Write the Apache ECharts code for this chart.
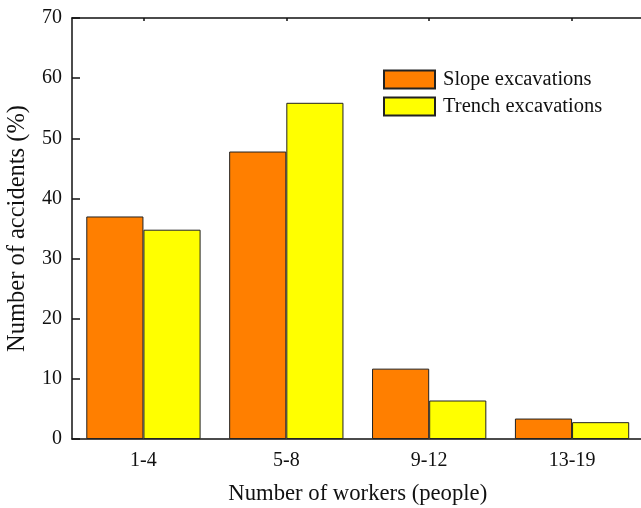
<!DOCTYPE html>
<html>
<head>
<meta charset="utf-8">
<script src="https://cdn.jsdelivr.net/npm/echarts@6/dist/echarts.min.js"></script>
<style>html,body{margin:0;padding:0;background:#fff;}#c{width:641px;height:508px;}</style>
</head>
<body>
<div id="c"></div>
<script>
var categories = ['1-4', '5-8', '9-12', '13-19'];
var slopeValues = [37, 47.8, 11.7, 3.4];
var trenchValues = [34.8, 55.9, 6.4, 2.8];
var yTicks = [0, 10, 20, 30, 40, 50, 60, 70];

var font = 'Liberation Serif, Times New Roman, serif';
var chart = echarts.init(document.getElementById('c'), null, {renderer: 'canvas'});
chart.setOption({
  animation: false,
  backgroundColor: '#fff',
  textStyle: {fontFamily: font},
  grid: {left: 72, right: -2.5, top: 18, bottom: 69, containLabel: false, outerBoundsMode: 'none'},
  legend: {
    data: ['Slope excavations', 'Trench excavations'],
    orient: 'vertical',
    left: 378, top: 64,
    itemWidth: 51, itemHeight: 18, itemGap: 6,
    textStyle: {fontFamily: font, fontSize: 20.5, color: '#111', padding: [0, 0, 0, 3]},
    icon: 'rect'
  },
  xAxis: [{
    type: 'category',
    data: categories,
    position: 'bottom',
    name: 'Number of workers (people)',
    nameLocation: 'middle',
    nameGap: 44,
    nameTextStyle: {fontFamily: font, fontSize: 22.7, color: '#111'},
    axisLine: {lineStyle: {color: '#111', width: 1.5}},
    axisTick: {show: false},
    axisLabel: {fontFamily: font, fontSize: 20, color: '#111', margin: 12}
  }, {
    type: 'category',
    data: categories,
    position: 'top',
    axisLine: {lineStyle: {color: '#111', width: 1.5}},
    axisTick: {show: true, inside: true, alignWithLabel: true, length: 3, lineStyle: {color: '#111', width: 1.5}},
    axisLabel: {show: false}
  }],
  yAxis: {
    type: 'value',
    min: 0, max: 70, interval: 10,
    name: 'Number of accidents (%)',
    nameLocation: 'middle',
    nameGap: 42,
    nameTextStyle: {fontFamily: font, fontSize: 24.5, color: '#111'},
    axisLine: {show: true, lineStyle: {color: '#111', width: 1.5}},
    axisTick: {show: true, inside: true, length: 8, lineStyle: {color: '#111', width: 1.5}},
    axisLabel: {fontFamily: font, fontSize: 20, color: '#111', margin: 10,
      formatter: function (v) { return yTicks.indexOf(v) >= 0 ? String(v) : ''; }},
    splitLine: {show: false}
  },
  series: [{
    name: 'Slope excavations',
    type: 'bar',
    data: slopeValues,
    barGap: '0%',
    barCategoryGap: '20%',
    itemStyle: {color: '#FF7F00', borderColor: '#222', borderWidth: 1}
  }, {
    name: 'Trench excavations',
    type: 'bar',
    data: trenchValues,
    itemStyle: {color: '#FFFF00', borderColor: '#222', borderWidth: 1}
  }]
});
</script>
</body>
</html>
